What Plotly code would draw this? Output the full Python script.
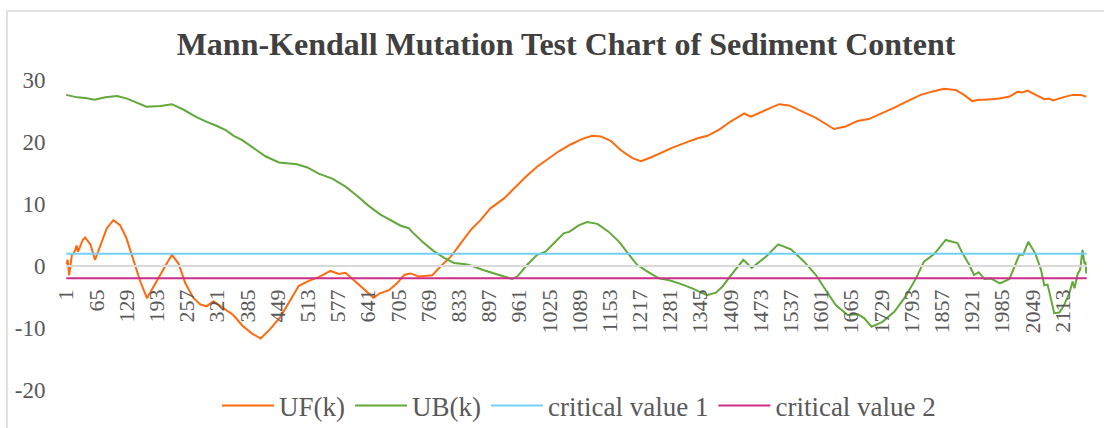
import plotly.graph_objects as go

# ---- data ----
N_POINTS = 2164
uf_k = [1, 4, 7, 13, 18, 23, 26, 30, 36, 41, 47, 52, 62, 73, 87, 101, 115, 128, 140, 158,
        172, 186, 200, 214, 225, 239, 253, 270, 285, 298, 313, 330, 355, 374, 395, 413, 434,
        455, 476, 494, 515, 536, 561, 579, 593, 614, 635, 652, 666, 685, 702, 718, 731, 748,
        777, 794, 816, 837, 858, 879, 900, 929, 950, 975, 999, 1020, 1045, 1070, 1095, 1116,
        1134, 1155, 1176, 1201, 1219, 1240, 1261, 1286, 1314, 1339, 1360, 1385, 1409, 1438,
        1452, 1469, 1487, 1512, 1533, 1561, 1590, 1611, 1628, 1653, 1678, 1702, 1727, 1755,
        1784, 1812, 1840, 1861, 1886, 1904, 1921, 1936, 1950, 1978, 1999, 2017, 2028, 2038,
        2056, 2074, 2084, 2093, 2113, 2134, 2152, 2163]
uf_v = [0.3, 1.0, -1.5, 1.8, 2.2, 3.3, 2.3, 3.0, 4.2, 4.6, 4.0, 3.5, 1.0, 3.4, 6.1, 7.4, 6.6,
        4.6, 1.8, -2.5, -5.2, -3.3, -1.3, 0.4, 1.8, 0.4, -2.7, -5.1, -6.2, -6.5, -5.7, -6.6,
        -7.9, -9.6, -10.9, -11.7, -10.1, -8.2, -5.4, -3.2, -2.4, -1.8, -0.8, -1.3, -1.1, -2.5,
        -4.0, -5.1, -4.4, -3.9, -2.8, -1.4, -1.2, -1.7, -1.5, -0.1, 1.5, 3.7, 5.8, 7.4, 9.3,
        10.9, 12.5, 14.4, 16.0, 17.1, 18.5, 19.6, 20.5, 21.0, 20.9, 20.2, 18.7, 17.4, 16.9,
        17.5, 18.2, 19.1, 19.9, 20.6, 21.0, 22.0, 23.3, 24.6, 24.1, 24.7, 25.3, 26.1, 25.9,
        24.9, 23.9, 22.9, 22.1, 22.5, 23.4, 23.7, 24.5, 25.5, 26.6, 27.6, 28.2, 28.6, 28.4,
        27.6, 26.6, 26.8, 26.8, 27.0, 27.3, 28.1, 28.0, 28.3, 27.6, 26.9, 27.0, 26.7, 27.2,
        27.6, 27.6, 27.3]

ub_k = [1, 24, 42, 61, 84, 109, 130, 151, 171, 201, 225, 250, 275, 300, 317, 339, 356, 374,
        399, 423, 452, 490, 512, 536, 565, 593, 618, 642, 667, 692, 710, 727, 734, 756, 780,
        802, 823, 848, 862, 883, 908, 929, 946, 957, 978, 999, 1017, 1035, 1056, 1067, 1088,
        1105, 1127, 1151, 1173, 1194, 1211, 1233, 1257, 1279, 1300, 1328, 1359, 1378, 1392,
        1413, 1436, 1454, 1470, 1484, 1510, 1537, 1565, 1590, 1611, 1632, 1657, 1679, 1692,
        1708, 1731, 1756, 1780, 1802, 1819, 1840, 1848, 1865, 1879, 1890, 1901, 1915, 1925,
        1935, 1947, 1961, 1980, 2000, 2021, 2029, 2040, 2055, 2067, 2074, 2081, 2095, 2106,
        2116, 2127, 2134, 2138, 2145, 2150, 2155, 2159, 2161, 2163]
ub_v = [27.6, 27.2, 27.1, 26.8, 27.2, 27.4, 27.0, 26.3, 25.7, 25.8, 26.1, 25.2, 24.1, 23.2,
        22.7, 21.9, 21.0, 20.3, 19.0, 17.7, 16.7, 16.4, 15.9, 14.9, 14.1, 12.8, 11.3, 9.7, 8.3,
        7.3, 6.5, 6.1, 5.5, 3.9, 2.4, 1.3, 0.5, 0.3, 0.0, -0.6, -1.2, -1.8, -2.1, -1.7, 0.2,
        1.8, 2.3, 3.7, 5.3, 5.5, 6.6, 7.1, 6.8, 5.5, 3.9, 1.8, 0.2, -0.9, -2.0, -2.3, -2.8,
        -3.6, -4.7, -4.3, -3.3, -1.2, 1.0, -0.3, 0.6, 1.5, 3.5, 2.7, 0.7, -1.45, -3.9, -6.3,
        -7.9, -7.8, -8.4, -9.8, -9.0, -7.4, -4.9, -2.0, 0.7, 1.9, 2.6, 4.2, 3.9, 3.7, 2.0, 0.2,
        -1.45, -1.0, -2.1, -2.0, -2.8, -2.1, 1.8, 1.8, 3.9, 2.0, -0.6, -3.1, -3.0, -7.6, -7.5,
        -6.3, -4.4, -2.5, -3.6, -1.2, -0.6, 2.6, 0.4, 0.7, -1.2]

critical_1 = 1.96
critical_2 = -1.96

tick_labels = [str(v) for v in range(1, 2114, 64)]
y_ticks = [-20, -10, 0, 10, 20, 30]
y_tick_text = [str(v) for v in y_ticks]   # plain hyphen minus, as in the reference

# ---- styling ----
FONT = "Liberation Serif"
GRAY = "#595959"
W, H = 1104, 428
ML, MR, MT, MB = 66, 17, 80, 38
PW = W - ML - MR
PH = H - MT - MB

fig = go.Figure()
fig.add_trace(go.Scatter(x=uf_k, y=uf_v, mode="lines", name="UF(k)",
                         line=dict(color="#FF6A0F", width=2)))
fig.add_trace(go.Scatter(x=ub_k, y=ub_v, mode="lines", name="UB(k)",
                         line=dict(color="#62A83A", width=2)))
fig.add_trace(go.Scatter(x=[1, N_POINTS], y=[critical_1, critical_1], mode="lines",
                         name="critical value 1", line=dict(color="#75D0F8", width=2)))
fig.add_trace(go.Scatter(x=[1, N_POINTS], y=[critical_2, critical_2], mode="lines",
                         name="critical value 2", line=dict(color="#CC2E8A", width=2)))

ymin, ymax = -20, 30
fig.update_layout(
    width=W, height=H,
    margin=dict(l=ML, r=MR, t=MT, b=MB, autoexpand=False),
    paper_bgcolor="white", plot_bgcolor="white",
    font=dict(family=FONT, color=GRAY),
    title=dict(text="Mann-Kendall Mutation Test Chart of Sediment Content",
               font=dict(family=FONT, size=32, color="#404040", weight="bold"),
               x=566 / W, xref="container", xanchor="center",
               y=1 - 44 / H, yref="container", yanchor="middle"),
    xaxis=dict(range=[0.5, N_POINTS + 0.5],
               tickvals=[int(t) for t in tick_labels], ticktext=tick_labels,
               tickangle=-90, tickfont=dict(family=FONT, size=22, color=GRAY),
               showgrid=False, zeroline=False, showline=True, linecolor="#D9D9D9",
               linewidth=1.5, ticks="outside", ticklen=14, tickcolor="rgba(0,0,0,0)",
               anchor="free", position=(0 - ymin) / (ymax - ymin)),
    yaxis=dict(range=[ymin, ymax], tickvals=y_ticks, ticktext=y_tick_text,
               showgrid=False, zeroline=False, showline=False,
               ticks="outside", ticklen=15, tickcolor="rgba(0,0,0,0)",
               tickfont=dict(family=FONT, size=23, color=GRAY)),
    legend=dict(orientation="h", x=579 / W, xref="container", xanchor="center",
                y=1 - 406 / H, yref="container", yanchor="middle", itemwidth=52,
                font=dict(family=FONT, size=27, color=GRAY), bgcolor="rgba(0,0,0,0)"),
    showlegend=True,
)

# outer chart border (partially visible as in the reference)
fig.add_shape(type="rect", xref="paper", yref="paper",
              x0=(7 - ML) / PW, x1=1.2, y0=-0.5, y1=(H - MB - 11) / PH,
              line=dict(color="#D9D9D9", width=1.5), layer="below")

fig.write_html("out.html", config={"displayModeBar": False},
               post_script="document.body.style.margin='0';")
